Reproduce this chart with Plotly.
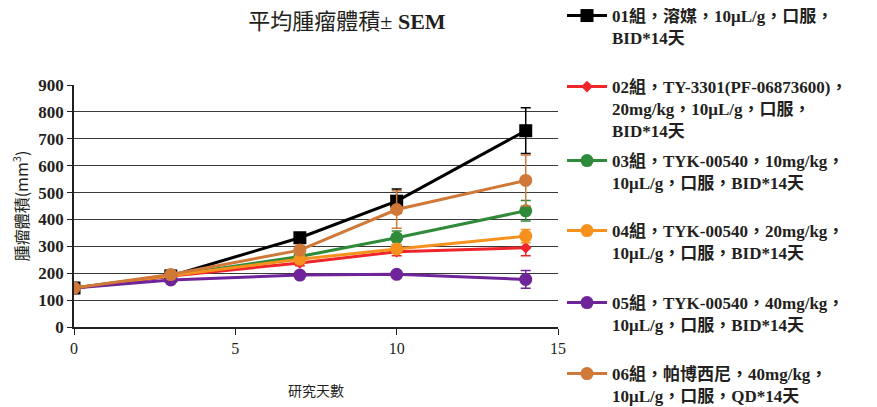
import plotly.graph_objects as go

days = [0, 3, 7, 10, 14]

names = [
    "01組，溶媒，10μL/g，口服，<br>BID*14天",
    "02組，TY-3301(PF-06873600)，<br>20mg/kg，10μL/g，口服，<br>BID*14天",
    "03組，TYK-00540，10mg/kg，<br>10μL/g，口服，BID*14天",
    "04組，TYK-00540，20mg/kg，<br>10μL/g，口服，BID*14天",
    "05組，TYK-00540，40mg/kg，<br>10μL/g，口服，BID*14天",
    "06組，帕博西尼，40mg/kg，<br>10μL/g，口服，QD*14天",
]

g01 = [145, 190, 332, 468, 730]
g02 = [145, 190, 238, 280, 295]
g03 = [145, 192, 262, 332, 432]
g04 = [145, 192, 252, 290, 338]
g05 = [145, 175, 193, 196, 177]
g06 = [145, 195, 286, 437, 545]

e01 = [8, 10, 15, 45, 85]
e02 = [5, 8, 10, 15, 30]
e03 = [5, 8, 12, 25, 38]
e04 = [5, 8, 10, 15, 25]
e05 = [5, 6, 8, 10, 33]
e06 = [5, 8, 15, 70, 95]

series = [g01, g02, g03, g04, g05, g06]
errors = [e01, e02, e03, e04, e05, e06]
colors = ["#000000", "#F0242B", "#2F8A3A", "#F7911E", "#70249A", "#D07838"]
symbols = ["square", "diamond", "circle", "circle", "circle", "circle"]
msizes = [13, 9, 13, 13, 13, 13]

# legend entry first-line centres (page pixels)
legend_rows = [15, 86, 160, 230, 302, 373]

serif = "Liberation Serif, Times New Roman, Noto Sans CJK TC, serif"
cjk = "Noto Sans CJK TC, Noto Sans, sans-serif"

# page body has an 8px margin; figure is sized to fill the rest of the window
W, H = 869, 399
L, R, T, B = 66, 319, 77, 80
PH = H - T - B
PW = W - L - R

fig = go.Figure()
legend_layout = {}
for i in range(6):
    lname = "legend" if i == 0 else f"legend{i + 1}"
    fig.add_trace(go.Scatter(
        x=days, y=series[i], name=names[i], mode="lines+markers",
        legend=lname,
        line=dict(color=colors[i], width=3),
        marker=dict(symbol=symbols[i], size=msizes[i], color=colors[i]),
        error_y=dict(type="data", array=errors[i], visible=True,
                     color=colors[i], thickness=1.5, width=5),
    ))
    top_fig = legend_rows[i] - 8 - 17
    legend_layout[lname] = dict(
        x=1.0 + 4 / PW, y=(PH + T - top_fig) / PH, xanchor="left", yanchor="top",
        valign="top",
        font=dict(family=serif, size=17, color="#231f20", weight="bold"),
        itemwidth=40, bgcolor="rgba(0,0,0,0)",
    )

fig.update_layout(
    width=W, height=H,
    margin=dict(l=L, r=R, t=T, b=B, autoexpand=False),
    paper_bgcolor="white", plot_bgcolor="white",
    showlegend=True,
    title=dict(
        text="平均腫瘤體積± <b>SEM</b>",
        x=(347 - 8 - L) / PW, xref="paper", xanchor="center",
        y=1 - (21 - 8) / H, yref="container", yanchor="middle",
        font=dict(family="Liberation Serif, Noto Sans CJK TC, serif", size=22, color="#231f20"),
    ),
    xaxis=dict(
        range=[0, 15], tickvals=[0, 5, 10, 15], showgrid=False,
        showline=True, linecolor="#231f20", linewidth=1.5,
        ticks="outside", ticklen=6, tickcolor="#231f20",
        tickfont=dict(family=serif, size=16, color="#231f20"),
        zeroline=False, automargin=False,
        title=dict(text="研究天數", font=dict(family=cjk, size=14, color="#231f20"), standoff=30),
    ),
    yaxis=dict(
        range=[0, 900], dtick=100, showgrid=True, gridcolor="#3a3a3a", gridwidth=1,
        showline=True, linecolor="#231f20", linewidth=1.5,
        ticks="outside", ticklen=5, tickcolor="#231f20",
        tickfont=dict(family=serif, size=17, color="#231f20", weight="bold"),
        zeroline=False, automargin=False,
        title=dict(text="腫瘤體積(mm<sup>3</sup>)", font=dict(family=cjk, size=16, color="#231f20"), standoff=14),
    ),
    **legend_layout,
)

fig.write_html("out.html")
